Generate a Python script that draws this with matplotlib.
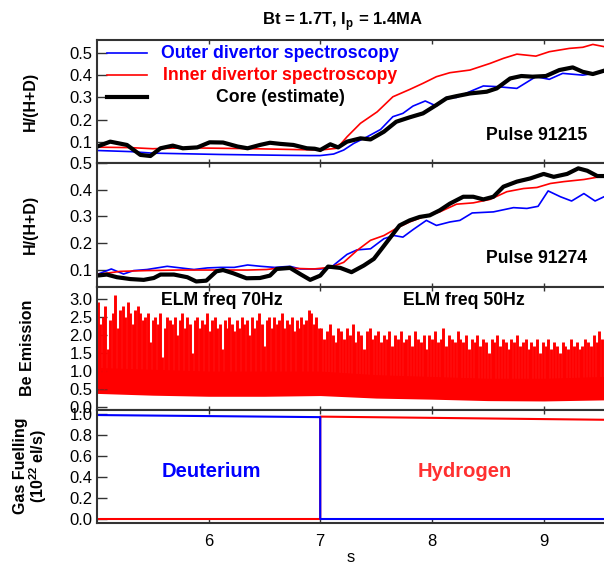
import numpy as np
import matplotlib
matplotlib.use("Agg")
import matplotlib.pyplot as plt

plt.rcParams['font.family'] = ['Liberation Sans', 'DejaVu Sans']
plt.rcParams['mathtext.fontset'] = 'custom'
plt.rcParams['mathtext.rm'] = 'Liberation Sans'
plt.rcParams['mathtext.bf'] = 'Liberation Sans:bold'

# ---- Pulse 91215 (top panel) ----
p1_outer_t = [5.0, 5.3, 5.5, 5.8, 6.1, 6.4, 6.7, 6.9, 7.0, 7.12, 7.21, 7.30, 7.42, 7.54, 7.65, 7.74,
              7.83, 7.94, 8.04, 8.13, 8.22, 8.37, 8.46, 8.58, 8.76, 8.93, 9.05, 9.17, 9.35, 9.54]
p1_outer = [0.060, 0.055, 0.048, 0.045, 0.042, 0.040, 0.038, 0.037, 0.037, 0.044, 0.062, 0.092, 0.122,
            0.155, 0.213, 0.228, 0.261, 0.284, 0.261, 0.300, 0.300, 0.333, 0.352, 0.349, 0.341, 0.394,
            0.382, 0.409, 0.401, 0.416]
p1_inner_t = [5.0, 5.3, 5.5, 5.8, 6.1, 6.4, 6.7, 6.9, 7.0, 7.15, 7.24, 7.36, 7.51, 7.65, 7.80, 7.92,
              8.04, 8.16, 8.34, 8.52, 8.64, 8.76, 8.93, 9.05, 9.23, 9.35, 9.44, 9.54]
p1_inner = [0.075, 0.073, 0.068, 0.072, 0.070, 0.068, 0.065, 0.063, 0.062, 0.070, 0.122, 0.183, 0.235,
            0.303, 0.336, 0.364, 0.394, 0.412, 0.424, 0.454, 0.477, 0.496, 0.487, 0.507, 0.522, 0.527,
            0.540, 0.530]
p1_core_t = [5.0, 5.12, 5.27, 5.39, 5.48, 5.57, 5.68, 5.77, 5.90, 6.01, 6.13, 6.26, 6.35, 6.46, 6.55,
             6.64, 6.76, 6.88, 6.95, 7.0, 7.09, 7.16, 7.24, 7.36, 7.45, 7.57, 7.68, 7.80, 7.92, 8.04,
             8.13, 8.22, 8.34, 8.49, 8.58, 8.70, 8.80, 8.90, 9.02, 9.14, 9.26, 9.35, 9.44, 9.54]
p1_core = [0.077, 0.100, 0.085, 0.040, 0.035, 0.070, 0.082, 0.070, 0.074, 0.097, 0.096, 0.078, 0.070,
           0.085, 0.095, 0.090, 0.085, 0.070, 0.068, 0.062, 0.088, 0.074, 0.100, 0.115, 0.110, 0.145,
           0.190, 0.210, 0.228, 0.266, 0.296, 0.306, 0.318, 0.326, 0.341, 0.386, 0.397, 0.394, 0.397,
           0.424, 0.436, 0.416, 0.406, 0.421]

# ---- Pulse 91274 (second panel) ----
p2_outer_t = [5.0, 5.13, 5.24, 5.33, 5.45, 5.63, 5.75, 5.87, 5.99, 6.11, 6.23, 6.35, 6.47, 6.59, 6.73,
              6.82, 7.0, 7.09, 7.24, 7.33, 7.45, 7.57, 7.66, 7.74, 7.83, 7.95, 8.04, 8.16, 8.25, 8.36,
              8.55, 8.73, 8.85, 8.95, 9.04, 9.15, 9.25, 9.36, 9.46, 9.54]
p2_outer = [0.081, 0.102, 0.083, 0.096, 0.100, 0.112, 0.106, 0.100, 0.106, 0.108, 0.108, 0.117, 0.112,
            0.108, 0.112, 0.102, 0.102, 0.106, 0.157, 0.174, 0.178, 0.216, 0.228, 0.222, 0.250, 0.285,
            0.266, 0.279, 0.285, 0.313, 0.317, 0.333, 0.330, 0.338, 0.396, 0.374, 0.358, 0.386, 0.358,
            0.374]
p2_inner_t = [5.0, 5.21, 5.45, 5.75, 6.05, 6.35, 6.52, 6.64, 6.94, 7.09, 7.21, 7.33, 7.45, 7.57, 7.69,
              7.80, 7.92, 8.07, 8.22, 8.37, 8.52, 8.67, 8.82, 8.94, 9.06, 9.18, 9.36, 9.54]
p2_inner = [0.081, 0.093, 0.096, 0.098, 0.098, 0.098, 0.100, 0.106, 0.102, 0.108, 0.127, 0.172, 0.210,
            0.228, 0.257, 0.279, 0.298, 0.317, 0.346, 0.351, 0.364, 0.393, 0.405, 0.409, 0.424, 0.431,
            0.439, 0.452]
p2_core_t = [5.0, 5.09, 5.18, 5.30, 5.42, 5.51, 5.57, 5.69, 5.81, 5.89, 5.98, 6.07, 6.13, 6.22, 6.34,
             6.46, 6.55, 6.61, 6.73, 6.82, 6.91, 7.0, 7.07, 7.18, 7.28, 7.39, 7.48, 7.55, 7.63, 7.71,
             7.80, 7.89, 7.98, 8.07, 8.16, 8.28, 8.37, 8.46, 8.55, 8.64, 8.76, 8.88, 9.0, 9.09, 9.21,
             9.31, 9.39, 9.48, 9.54]
p2_core = [0.077, 0.081, 0.071, 0.064, 0.061, 0.068, 0.081, 0.081, 0.071, 0.055, 0.058, 0.093, 0.098,
           0.086, 0.067, 0.068, 0.077, 0.102, 0.106, 0.083, 0.061, 0.077, 0.111, 0.106, 0.090, 0.115,
           0.140, 0.178, 0.222, 0.266, 0.285, 0.298, 0.304, 0.323, 0.348, 0.374, 0.374, 0.364, 0.374,
           0.412, 0.431, 0.443, 0.460, 0.449, 0.460, 0.481, 0.472, 0.452, 0.452]

# ---- Be emission: ELM peaks (70 Hz phase before 7 s, 50 Hz phase after) ----
elm_peaks_d = [2.9, 2.3, 2.5, 2.8, 1.6, 2.4, 2.6, 3.1, 2.2, 2.7,
               2.8, 2.5, 2.9, 2.6, 2.3, 2.7, 2.8, 2.6, 2.4, 2.5,
               2.6, 1.8, 2.4, 2.5, 2.3, 2.6, 1.4, 2.2, 2.5, 2.4,
               2.3, 2.5, 2.0, 2.4, 2.6, 2.2, 2.5, 2.3, 1.5, 2.4,
               2.5, 2.2, 2.4, 2.3, 2.6, 2.1, 2.4, 2.5, 2.2, 2.3,
               1.6, 2.4, 2.2, 2.5, 2.3, 2.1, 2.4, 2.2, 2.5, 2.3,
               2.4, 2.0, 2.5, 2.2, 2.4, 2.6, 2.3, 1.7, 2.4, 2.5,
               2.2, 2.5, 2.3, 2.4, 2.6, 2.2, 2.4, 2.3, 2.5, 2.1,
               2.4, 2.2, 2.5, 2.3, 2.4, 2.7, 2.6, 2.3, 2.5, 2.2]
elm_peaks_h = [2.2, 1.9, 2.1, 2.3, 2.0, 1.8, 2.2, 2.1, 1.9, 2.2,
               2.0, 2.3, 1.8, 2.1, 2.0, 1.6, 2.1, 2.2, 1.9, 2.0,
               2.1, 1.8, 2.0, 1.9, 2.1, 1.7, 2.0, 1.9, 2.1, 1.8,
               1.9, 2.0, 1.7, 2.1, 1.9, 1.8, 2.0, 1.6, 2.0, 1.9,
               2.1, 1.8, 1.9, 2.2, 1.7, 2.0, 1.9, 1.8, 2.1, 1.9,
               1.8, 2.0, 1.6, 1.9, 1.8, 2.0, 1.7, 1.9, 1.8, 1.5,
               1.9, 1.8, 2.0, 1.7, 1.9, 1.8, 1.6, 1.9, 1.8, 2.0,
               1.7, 1.8, 1.9, 1.6, 1.8, 1.7, 1.9, 1.5, 1.8, 1.7,
               1.9, 1.6, 1.8, 1.7, 1.5, 1.8, 1.7, 1.6, 1.9, 1.7,
               1.8, 1.6, 1.7, 1.9, 1.8, 1.7, 2.0, 1.8, 2.1, 1.9]
band_t = [5.0, 5.5, 6.0, 6.5, 7.0, 7.5, 8.0, 8.5, 9.0, 9.54]
band_lo = [0.38, 0.33, 0.30, 0.30, 0.32, 0.25, 0.22, 0.18, 0.17, 0.20]
band_hi = [1.10, 1.05, 1.00, 1.00, 1.00, 0.90, 0.85, 0.80, 0.80, 0.85]

# ---- Gas fuelling ----
d2_t = [5.0, 7.0, 7.0, 9.54]
d2_rate = [0.99, 0.97, 0.0, 0.0]
h2_t = [5.0, 7.0, 7.0, 9.54]
h2_rate = [0.0, 0.0, 0.975, 0.945]

XMIN, XMAX = 5.0, 9.54
SPINE = '#333333'

fig = plt.figure(figsize=(6.04, 5.63), dpi=100)
H = 563.0
left = 96.8 / 604
width = 1.0 - left


def make_ax(top_px, bot_px):
    ax = fig.add_axes([left, 1 - bot_px / H, width, (bot_px - top_px) / H])
    ax.set_xlim(XMIN, XMAX)
    ax.spines['right'].set_visible(False)
    for s in ['left', 'top', 'bottom']:
        ax.spines[s].set_color(SPINE)
        ax.spines[s].set_linewidth(1.5)
    ax.tick_params(axis='x', direction='in', top=True, bottom=True, length=3, width=1,
                   labelbottom=False, color=SPINE)
    ax.tick_params(axis='y', direction='in', left=True, right=False, length=7, width=1,
                   labelsize=12, pad=3, color=SPINE)
    ax.set_xticks([6, 7, 8, 9])
    return ax


ax1 = make_ax(40, 163.3)
ax2 = make_ax(163.3, 286.5)
ax3 = make_ax(286.5, 410)
ax4 = make_ax(410, 523)

# panel 1
ax1.plot(p1_outer_t, p1_outer, color='blue', lw=1.2)
ax1.plot(p1_inner_t, p1_inner, color='red', lw=1.2)
ax1.plot(p1_core_t, p1_core, color='black', lw=3.0)
ax1.set_ylim(0.002, 0.56)
ax1.set_yticks([0.1, 0.2, 0.3, 0.4, 0.5])
ax1.set_yticklabels(['0.1', '0.2', '0.3', '0.4', '0.5'])
for yv, col, lw, txt in [(0.5, 'blue', 1.2, 'Outer divertor spectroscopy'),
                         (0.4, 'red', 1.2, 'Inner divertor spectroscopy'),
                         (0.3, 'black', 3.0, 'Core (estimate)')]:
    ax1.plot([5.09, 5.45], [yv, yv], color=col, lw=lw)
    ax1.text(6.64, yv, txt, color=col, fontsize=12.7, fontweight='bold', ha='center', va='center')
ax1.text(8.48, 0.126, 'Pulse 91215', fontsize=12.7, fontweight='bold', va='center')

# panel 2
ax2.plot(p2_outer_t, p2_outer, color='blue', lw=1.2)
ax2.plot(p2_inner_t, p2_inner, color='red', lw=1.2)
ax2.plot(p2_core_t, p2_core, color='black', lw=3.0)
ax2.set_ylim(0.036, 0.5)
ax2.set_yticks([0.1, 0.2, 0.3, 0.4, 0.5])
ax2.set_yticklabels(['0.1', '0.2', '0.3', '0.4', '0.5'])
ax2.text(8.48, 0.141, 'Pulse 91274', fontsize=12.7, fontweight='bold', va='center')

# panel 3
ax3.fill_between(band_t, band_lo, band_hi, color='red', lw=0)
t_d = np.linspace(5.0, 7.0, len(elm_peaks_d), endpoint=False) + 0.01
t_h = np.linspace(7.0, XMAX, len(elm_peaks_h), endpoint=False) + 0.01
ax3.vlines(t_d, 0.5, elm_peaks_d, color='red', lw=2.1)
ax3.vlines(t_h, 0.5, elm_peaks_h, color='red', lw=2.1)
ax3.set_ylim(-0.08, 3.34)
ax3.set_yticks([0.0, 0.5, 1.0, 1.5, 2.0, 2.5, 3.0])
ax3.text(6.12, 2.95, 'ELM freq 70Hz', fontsize=12.7, fontweight='bold', ha='center', va='center')
ax3.text(8.29, 2.95, 'ELM freq 50Hz', fontsize=12.7, fontweight='bold', ha='center', va='center')

# panel 4
ax4.plot(h2_t, h2_rate, color='red', lw=1.5)
ax4.plot(d2_t, d2_rate, color='blue', lw=1.5)
ax4.set_ylim(-0.038, 1.038)
ax4.set_yticks([0.0, 0.2, 0.4, 0.6, 0.8, 1.0])
ax4.tick_params(axis='x', labelbottom=True, labelsize=12, pad=8)
ax4.set_xlabel('s', fontsize=12, labelpad=1)
ax4.text(6.03, 0.45, 'Deuterium', color='blue', fontsize=14.5, fontweight='bold', ha='center', va='center')
ax4.text(8.29, 0.45, 'Hydrogen', color='#ff3030', fontsize=14.5, fontweight='bold', ha='center', va='center')

# y labels and title
fig.text(30 / 604, 1 - 101 / H, 'H/(H+D)', rotation=90, fontsize=11.5, fontweight='bold',
         ha='center', va='center')
fig.text(30 / 604, 1 - 224 / H, 'H/(H+D)', rotation=90, fontsize=11.5, fontweight='bold',
         ha='center', va='center')
fig.text(28 / 604, 1 - 348 / H, 'Be Emission', rotation=90, fontsize=11.5, fontweight='bold',
         ha='center', va='center')
fig.text(31 / 604, 1 - 466 / H, 'Gas Fuelling\n(10$^{\\mathbf{22}}$ el/s)', rotation=90, fontsize=11.5,
         fontweight='bold', ha='center', va='center', multialignment='center', linespacing=1.0)
fig.text(342 / 604, 1 - 22 / H, 'Bt = 1.7T, I$_{\\mathbf{p}}$ = 1.4MA', fontsize=12,
         fontweight='bold', ha='center', va='center')

fig.savefig('out.png', dpi=100)
